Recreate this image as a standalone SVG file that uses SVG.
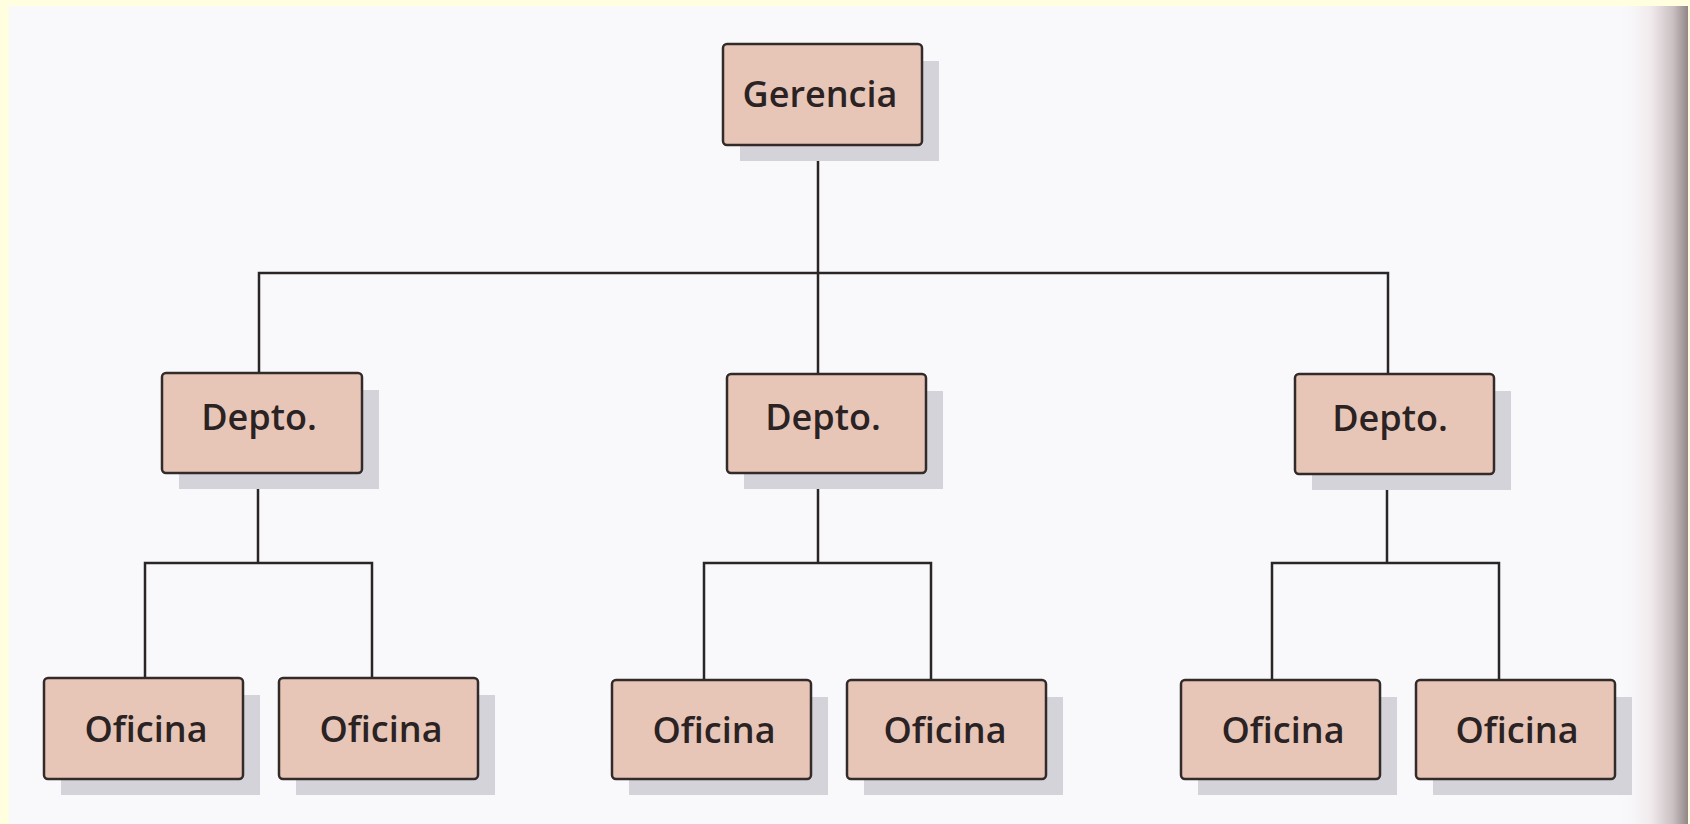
<svg xmlns="http://www.w3.org/2000/svg" width="1690" height="824" viewBox="0 0 1690 824">
<style>
.box{fill:#E7C6B8;stroke:#332a2a;stroke-width:2.5}
.sh{fill:#D3D3D9}
.lbl{font-family:"Open Sans","Liberation Sans",sans-serif;font-weight:600;font-size:36px;fill:#2b2323;text-anchor:middle}
.con{stroke:#2a2626;stroke-width:2.5;fill:none;stroke-linecap:square}
</style>
<defs>
<linearGradient id="edge" x1="0" y1="0" x2="1" y2="0">
<stop offset="0" stop-color="#F9F9FB" stop-opacity="0"/>
<stop offset="0.5" stop-color="#F0E9EB"/>
<stop offset="0.8" stop-color="#C9BFC1"/>
<stop offset="1" stop-color="#908686"/>
</linearGradient>
</defs>
<rect x="0" y="0" width="1690" height="824" fill="#F9F9FB"/>
<rect x="1615" y="0" width="73" height="824" fill="url(#edge)"/>
<rect x="0" y="0" width="1690" height="6" fill="#FFFFE0"/>
<rect x="0" y="0" width="9" height="824" fill="#FFFFE0"/>
<rect x="1688" y="0" width="2" height="824" fill="#FFFFE0"/>

<g id="connectors">
<path class="con" d="M818 145V273M259 273H1388M259 273V373M818 273V374M1388 273V374"/>
<path class="con" d="M258 473V563M145 563H372M145 563V678M372 563V678"/>
<path class="con" d="M818 473V563M704 563H931M704 563V680M931 563V680"/>
<path class="con" d="M1387 474V563M1272 563H1499M1272 563V680M1499 563V680"/>
</g>

<g id="gerencia">
<rect class="sh" x="740" y="61" width="199" height="100"/>
<rect class="box" x="723" y="44" width="199" height="101" rx="4"/>
<text class="lbl" x="820" y="107">Gerencia</text>
</g>

<g id="depto1">
<rect class="sh" x="179" y="390" width="200" height="99"/>
<rect class="box" x="162" y="373" width="200" height="100" rx="4"/>
<text class="lbl" x="259" y="430">Depto.</text>
</g>
<g id="depto2">
<rect class="sh" x="744" y="391" width="199" height="98"/>
<rect class="box" x="727" y="374" width="199" height="99" rx="4"/>
<text class="lbl" x="823" y="430">Depto.</text>
</g>
<g id="depto3">
<rect class="sh" x="1312" y="391" width="199" height="99"/>
<rect class="box" x="1295" y="374" width="199" height="100" rx="4"/>
<text class="lbl" x="1390" y="431">Depto.</text>
</g>

<g id="oficina1">
<rect class="sh" x="61" y="695" width="199" height="100"/>
<rect class="box" x="44" y="678" width="199" height="101" rx="4"/>
<text class="lbl" x="146" y="742">Oficina</text>
</g>
<g id="oficina2">
<rect class="sh" x="296" y="695" width="199" height="100"/>
<rect class="box" x="279" y="678" width="199" height="101" rx="4"/>
<text class="lbl" x="381" y="742">Oficina</text>
</g>
<g id="oficina3">
<rect class="sh" x="629" y="697" width="199" height="98"/>
<rect class="box" x="612" y="680" width="199" height="99" rx="4"/>
<text class="lbl" x="714" y="743">Oficina</text>
</g>
<g id="oficina4">
<rect class="sh" x="864" y="697" width="199" height="98"/>
<rect class="box" x="847" y="680" width="199" height="99" rx="4"/>
<text class="lbl" x="945" y="743">Oficina</text>
</g>
<g id="oficina5">
<rect class="sh" x="1198" y="697" width="199" height="98"/>
<rect class="box" x="1181" y="680" width="199" height="99" rx="4"/>
<text class="lbl" x="1283" y="743">Oficina</text>
</g>
<g id="oficina6">
<rect class="sh" x="1433" y="697" width="199" height="98"/>
<rect class="box" x="1416" y="680" width="199" height="99" rx="4"/>
<text class="lbl" x="1517" y="743">Oficina</text>
</g>
</svg>
